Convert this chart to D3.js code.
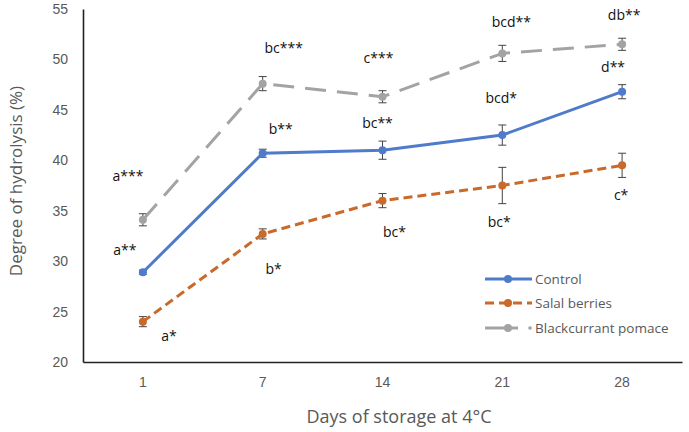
<!DOCTYPE html>
<html><head><meta charset="utf-8">
<script src="https://cdn.jsdelivr.net/npm/d3@7"></script>
<style>
body{margin:0;background:#fff;}
svg{display:block;font-family:"Open Sans",sans-serif;}
</style></head>
<body><svg id="c" width="689" height="432"></svg>
<script>
const days = ["1","7","14","21","28"];
const yTicks = [20,25,30,35,40,45,50,55];
const seriesNames = ["Control","Salal berries","Blackcurrant pomace"];
const controlVals = [28.9,40.7,41.0,42.5,46.8];
const controlErr  = [0.2,0.4,0.9,1.0,0.7];
const salalVals   = [24.0,32.7,36.0,37.5,39.5];
const salalErr    = [0.5,0.5,0.7,1.8,1.2];
const blackVals   = [34.1,47.6,46.3,50.6,51.5];
const blackErr    = [0.6,0.7,0.6,0.8,0.6];
const controlLabels = ["a**","b**","bc**","bcd*","d**"];
const salalLabels   = ["a*","b*","bc*","bc*","c*"];
const blackLabels   = ["a***","bc***","c***","bcd**","db**"];
// label anchor heights (data units)
const controlLabelY = [31.2,43.2,43.7,46.2,49.3];
const salalLabelY   = [22.6,29.3,32.9,33.9,36.6];
const blackLabelY   = [38.5,51.2,50.2,53.8,54.5];

const colors = ["#4F7BCB","#C9692A","#A3A3A3"];
const dashes = [null,"9,5","21,11"];

const svg = d3.select("#c");
const m = {l:83, r:682, t:9, b:362};
const x = d3.scaleBand().domain(days).range([m.l, m.r]);
const xc = d => x(d) + x.bandwidth()/2;
const y = d3.scaleLinear().domain([20,55]).range([m.b, m.t]);

// axes
const yAx = svg.append("g").attr("transform",`translate(${m.l},0)`)
  .call(d3.axisLeft(y).tickValues(yTicks).tickSize(0).tickPadding(15));
yAx.select(".domain").attr("stroke","#222").attr("stroke-width",1.6);
yAx.selectAll("text").attr("fill","#595959").attr("font-size",14);

const xAx = svg.append("g").attr("transform",`translate(0,${m.b})`)
  .call(d3.axisBottom(x).tickSize(0).tickPadding(15));
xAx.select(".domain").attr("stroke","#222").attr("stroke-width",1.6);
xAx.selectAll("text").attr("fill","#595959").attr("font-size",14);

svg.append("text").attr("x",399).attr("y",416).attr("text-anchor","middle")
  .attr("dominant-baseline","central")
  .attr("fill","#595959").attr("font-size",18).text("Days of storage at 4°C");
svg.append("text").attr("transform","translate(15,181) rotate(-90)")
  .attr("text-anchor","middle").attr("dominant-baseline","central")
  .attr("fill","#595959").attr("font-size",17)
  .text("Degree of hydrolysis (%)");

const series = [
  {vals:controlVals, err:controlErr, labels:controlLabels, ly:controlLabelY, dx:[-18,18,-5,-1,-9]},
  {vals:salalVals, err:salalErr, labels:salalLabels, ly:salalLabelY, dx:[26,11,12,-3,-1]},
  {vals:blackVals, err:blackErr, labels:blackLabels, ly:blackLabelY, dx:[-15,21,-4,9,2]}
];
const drawOrder = [1,0,2];
const line = d3.line().x((v,i)=>xc(days[i])).y(v=>y(v));

drawOrder.forEach(si=>{
  const s = series[si];
  const g = svg.append("g");
  s.vals.forEach((v,i)=>{
    const cx = xc(days[i]), e = s.err[i];
    g.append("line").attr("x1",cx).attr("x2",cx).attr("y1",y(v-e)).attr("y2",y(v+e))
      .attr("stroke","#444").attr("stroke-width",1);
    [v-e,v+e].forEach(w=>g.append("line").attr("x1",cx-4).attr("x2",cx+4)
      .attr("y1",y(w)).attr("y2",y(w)).attr("stroke","#444").attr("stroke-width",1));
  });
  g.append("path").attr("d",line(s.vals)).attr("fill","none")
    .attr("stroke",colors[si]).attr("stroke-width",3)
    .attr("stroke-dasharray",dashes[si]);
  g.selectAll("circle").data(s.vals).join("circle")
    .attr("cx",(v,i)=>xc(days[i])).attr("cy",v=>y(v)).attr("r",4).attr("fill",colors[si]);
});

// annotations
series.forEach(s=>{
  s.labels.forEach((t,i)=>{
    svg.append("text").attr("x",xc(days[i])+s.dx[i]).attr("y",y(s.ly[i]))
      .attr("text-anchor","middle").attr("dominant-baseline","central")
      .attr("fill","#111").attr("font-size",14).text(t);
  });
});

// legend
const lg = svg.append("g");
const legY = [279,303,328];
seriesNames.forEach((n,i)=>{
  const yy = legY[i];
  const x2 = i===2 ? 518 : 532;
  lg.append("line").attr("x1",485).attr("x2",x2).attr("y1",yy).attr("y2",yy)
    .attr("stroke",colors[i]).attr("stroke-width",3)
    .attr("stroke-dasharray", i===1 ? "9,5" : null);
  lg.append("circle").attr("cx",508).attr("cy",yy).attr("r",4).attr("fill",colors[i]);
  if(i===2) lg.append("circle").attr("cx",530).attr("cy",yy).attr("r",1.8).attr("fill",colors[i]);
  lg.append("text").attr("x",535).attr("y",yy).attr("dominant-baseline","central")
    .attr("fill","#595959").attr("font-size",13.5).text(n);
});
</script></body></html>
